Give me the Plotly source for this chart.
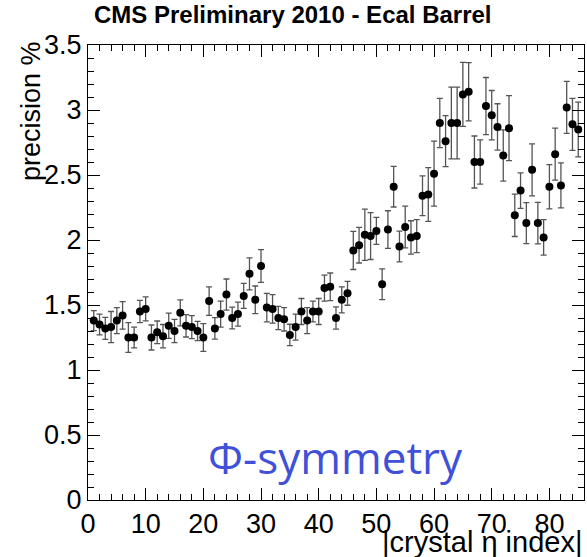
import plotly.graph_objects as go

eta_index = [1, 2, 3, 4, 5, 6, 7, 8, 9, 10,
             11, 12, 13, 14, 15, 16, 17, 18, 19, 20,
             21, 22, 23, 24, 25, 26, 27, 28, 29, 30,
             31, 32, 33, 34, 35, 36, 37, 38, 39, 40,
             41, 42, 43, 44, 45, 46, 47, 48, 49, 50,
             51, 52, 53, 54, 55, 56, 57, 58, 59, 60,
             61, 62, 63, 64, 65, 66, 67, 68, 69, 70,
             71, 72, 73, 74, 75, 76, 77, 78, 79, 80,
             81, 82, 83, 84, 85]

precision = [1.38, 1.35, 1.32, 1.33, 1.38, 1.42, 1.25, 1.25, 1.45, 1.47,
             1.25, 1.29, 1.26, 1.34, 1.30, 1.44, 1.34, 1.33, 1.30, 1.25,
             1.53, 1.32, 1.43, 1.58, 1.40, 1.43, 1.57, 1.74, 1.54, 1.80,
             1.48, 1.47, 1.40, 1.39, 1.27, 1.33, 1.45, 1.38, 1.45, 1.45,
             1.63, 1.64, 1.40, 1.54, 1.59, 1.92, 1.96, 2.04, 2.03, 2.07,
             1.66, 2.08, 2.41, 1.95, 2.10, 2.02, 2.03, 2.34, 2.35, 2.51,
             2.90, 2.76, 2.90, 2.90, 3.12, 3.14, 2.60, 2.60, 3.03, 2.96,
             2.87, 2.65, 2.86, 2.19, 2.38, 2.13, 2.54, 2.13, 2.02, 2.41,
             2.66, 2.42, 3.02, 2.89, 2.85]

precision_err = [0.077, 0.08, 0.085, 0.12, 0.10, 0.106, 0.114, 0.08, 0.085, 0.092,
                 0.096, 0.087, 0.09, 0.097, 0.09, 0.10, 0.086, 0.088, 0.074, 0.106,
                 0.11, 0.083, 0.10, 0.12, 0.083, 0.092, 0.096, 0.123, 0.106, 0.126,
                 0.11, 0.11, 0.09, 0.09, 0.082, 0.10, 0.10, 0.10, 0.08, 0.10,
                 0.10, 0.106, 0.086, 0.10, 0.092, 0.147, 0.137, 0.197, 0.18, 0.104,
                 0.118, 0.145, 0.156, 0.118, 0.16, 0.128, 0.127, 0.153, 0.206, 0.25,
                 0.19, 0.196, 0.276, 0.276, 0.246, 0.224, 0.20, 0.17, 0.22, 0.19,
                 0.178, 0.197, 0.25, 0.163, 0.137, 0.158, 0.20, 0.16, 0.136, 0.17,
                 0.20, 0.173, 0.20, 0.20, 0.21]

x_ticks = [0, 10, 20, 30, 40, 50, 60, 70, 80]
y_ticks = [0, 0.5, 1, 1.5, 2, 2.5, 3, 3.5]
y_tick_labels = ["0", "0.5", "1", "1.5", "2", "2.5", "3", "3.5"]

FONT = "Liberation Sans, Arial, sans-serif"

fig = go.Figure()
fig.add_trace(go.Scatter(
    x=eta_index, y=precision, mode="markers",
    marker=dict(color="black", size=8),
    error_y=dict(type="data", array=precision_err, visible=True,
                 color="#555555", thickness=1.3, width=3),
    showlegend=False,
))

axis_common = dict(
    showline=True, linecolor="black", linewidth=1, mirror="allticks",
    ticks="inside", tickcolor="black", ticklen=12, tickwidth=1,
    showgrid=False, zeroline=False, automargin=False,
    tickfont=dict(family=FONT, size=27, color="black"),
)

fig.update_xaxes(
    range=[0, 86], tickvals=x_ticks,
    minor=dict(ticks="inside", ticklen=6, dtick=2, tick0=0, tickcolor="black", showgrid=False),
    **axis_common,
)
fig.update_yaxes(
    range=[0, 3.5], tickvals=y_ticks, ticktext=y_tick_labels,
    minor=dict(ticks="inside", ticklen=6, dtick=0.1, tick0=0, tickcolor="black", showgrid=False),
    **axis_common,
)

fig.add_annotation(
    text="<b>CMS Preliminary 2010 - Ecal Barrel</b>",
    xref="paper", yref="paper", x=(293 - 88) / 496, y=1 + (45 - 14) / 455,
    xanchor="center", yanchor="middle", showarrow=False,
    font=dict(family=FONT, size=24, color="black"),
)
fig.add_annotation(
    text="precision %", textangle=-90,
    xref="paper", yref="paper", x=(31 - 88) / 496, y=1 + (45 - 39) / 455,
    xanchor="center", yanchor="top", showarrow=False,
    font=dict(family=FONT, size=27, color="black"),
)
fig.add_annotation(
    text="|crystal η index|",
    xref="paper", yref="paper", x=1.0, y=(500 - 542) / 455,
    xanchor="right", yanchor="middle", showarrow=False,
    font=dict(family=FONT, size=29, color="black"),
)
fig.add_annotation(
    text="Φ-symmetry",
    xref="paper", yref="paper", x=(335 - 88) / 496, y=(500 - 457) / 455,
    xanchor="center", yanchor="middle", showarrow=False,
    font=dict(family="Open Sans, Noto Sans, sans-serif", size=44, color="#4050D8"),
)

fig.update_layout(
    width=587, height=557,
    margin=dict(l=88, r=3, t=45, b=57),
    paper_bgcolor="white", plot_bgcolor="white",
)

fig.write_html("out.html", config={"displayModeBar": False},
               post_script="document.body.style.margin='0';")
